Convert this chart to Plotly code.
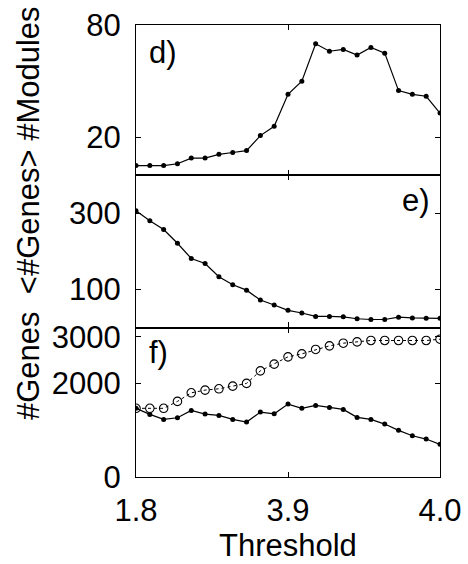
import plotly.graph_objects as go

threshold = [1.8, 1.9, 2.0, 2.1, 2.2, 2.3, 2.4, 2.5, 2.6, 2.7, 2.8, 2.9,
             3.0, 3.1, 3.2, 3.3, 3.4, 3.5, 3.6, 3.7, 3.8, 3.9, 4.0]
n_modules = [5, 5, 5, 6, 9, 9, 11, 12, 13, 21, 26, 43,
             50, 70, 66, 67, 64, 68, 65, 45, 43, 42, 33]
mean_genes = [306, 280, 257, 221, 181, 168, 133, 112, 98, 72, 59, 45,
              38, 29, 29, 28, 23, 21, 21, 27, 25, 24, 24]
genes_total = [1470, 1470, 1470, 1618, 1802, 1860, 1888, 1945, 2003, 2272, 2416, 2572,
               2636, 2730, 2807, 2864, 2892, 2922, 2922, 2922, 2922, 2922, 2950]
genes_in_modules = [1469, 1340, 1233, 1268, 1426, 1347, 1319, 1233, 1176, 1390, 1353, 1560,
                    1469, 1533, 1490, 1447, 1276, 1233, 1133, 998, 883, 812, 699]

x_tickvals = [1.8, 2.9, 4.0]
x_ticktext = ["1.8", "3.9", "4.0"]
panel_labels = ["d)", "e)", "f)"]
y_title = "#Genes  &lt;#Genes&gt; #Modules"
x_title = "Threshold"

FONT = "Liberation Sans, Arial, Helvetica, sans-serif"
FS = 31

line_style = dict(color="black", width=1.2)
dot_marker = dict(color="black", size=5)

fig = go.Figure()
fig.add_trace(go.Scatter(x=threshold, y=n_modules, mode="lines+markers",
                         line=line_style, marker=dot_marker, xaxis="x", yaxis="y"))
fig.add_trace(go.Scatter(x=threshold, y=mean_genes, mode="lines+markers",
                         line=line_style, marker=dot_marker, xaxis="x2", yaxis="y2"))
fig.add_trace(go.Scatter(x=threshold, y=genes_total, mode="lines+markers",
                         line=dict(color="black", width=1, dash="dot"),
                         marker=dict(symbol="circle-open", color="black", size=8.5,
                                     line=dict(width=1.1, color="black")),
                         xaxis="x3", yaxis="y3"))
fig.add_trace(go.Scatter(x=threshold, y=genes_in_modules, mode="lines+markers",
                         line=line_style, marker=dot_marker, xaxis="x3", yaxis="y3"))

W, H = 468, 564
L, R, T, B = 136, 28, 25, 87
pw, ph = W - L - R, H - T - B
d_top = (H - B - 175) / ph
d_mid = (H - B - 327.5) / ph

axis_common = dict(showline=True, linecolor="black", linewidth=1.2, mirror="ticks",
                   ticks="inside", ticklen=5, tickwidth=1, tickcolor="black",
                   showgrid=False, zeroline=False, automargin=False,
                   tickfont=dict(family=FONT, size=FS, color="black"))

xcommon = dict(axis_common, range=[1.8, 4.0], tickvals=x_tickvals, ticktext=x_ticktext)

fig.update_layout(
    width=W, height=H,
    margin=dict(l=L, r=R, t=T, b=B, autoexpand=False),
    paper_bgcolor="white", plot_bgcolor="white",
    showlegend=False,
    font=dict(family=FONT, size=FS, color="black"),
    xaxis=dict(xcommon, anchor="y", showticklabels=False, matches="x3"),
    xaxis2=dict(xcommon, anchor="y2", showticklabels=False, matches="x3"),
    xaxis3=dict(xcommon, anchor="y3", showticklabels=True, ticklabelstandoff=6),
    yaxis=dict(axis_common, domain=[d_top, 1], range=[0, 80], tickvals=[20, 80],
               ticklabelstandoff=8),
    yaxis2=dict(axis_common, domain=[d_mid, d_top], range=[0, 400], tickvals=[100, 300],
                ticklabelstandoff=8),
    yaxis3=dict(axis_common, domain=[0, d_mid], range=[0, 3200], tickvals=[0, 2000, 3000],
                ticklabelstandoff=8),
)

def px_x(p):
    return (p - L) / pw

def px_y(p):
    return (H - B - p) / ph

fig.add_annotation(text=y_title, textangle=-90, xref="paper", yref="paper",
                   x=px_x(28), y=px_y(213), xanchor="center", yanchor="middle",
                   showarrow=False, font=dict(family=FONT, size=FS, color="black"))
fig.add_annotation(text=x_title, xref="paper", yref="paper",
                   x=px_x(288), y=px_y(545), xanchor="center", yanchor="middle",
                   showarrow=False, font=dict(family=FONT, size=FS, color="black"))

fig.add_annotation(text=panel_labels[0], xref="x domain", yref="y domain",
                   x=0.035, y=0.82, xanchor="left", yanchor="middle", showarrow=False,
                   font=dict(family=FONT, size=FS, color="black"))
fig.add_annotation(text=panel_labels[1], xref="x2 domain", yref="y2 domain",
                   x=0.975, y=0.83, xanchor="right", yanchor="middle", showarrow=False,
                   font=dict(family=FONT, size=FS, color="black"))
fig.add_annotation(text=panel_labels[2], xref="x3 domain", yref="y3 domain",
                   x=0.035, y=0.83, xanchor="left", yanchor="middle", showarrow=False,
                   font=dict(family=FONT, size=FS, color="black"))

fig.write_html("out.html", config={"displayModeBar": False},
               post_script="document.body.style.margin='0';document.body.style.overflow='hidden';")
